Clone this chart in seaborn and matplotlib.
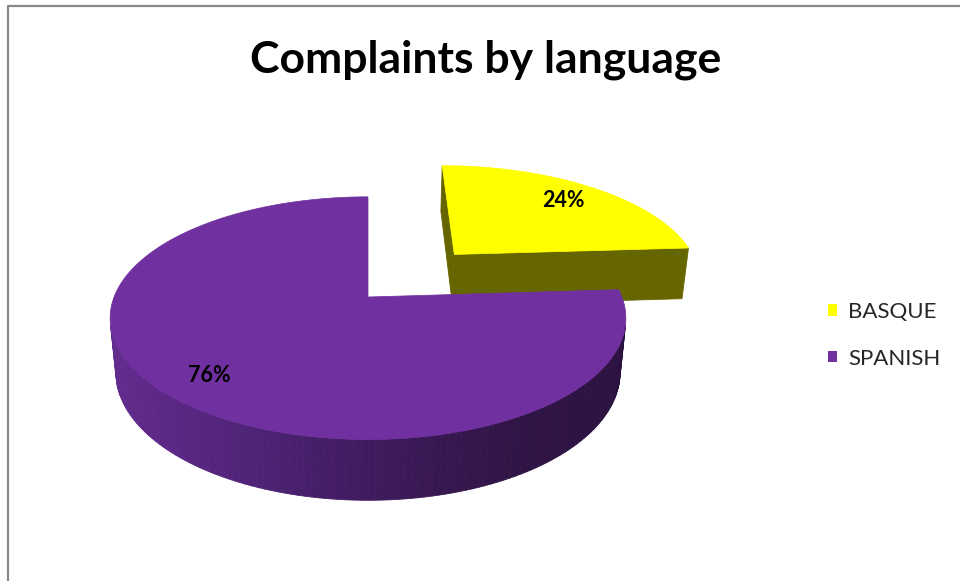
import numpy as np
import matplotlib
matplotlib.use("Agg")
import matplotlib.pyplot as plt
import seaborn as sns
from matplotlib.patches import Patch

# Data
languages = ['BASQUE', 'SPANISH']
shares = [24, 76]
explode = [0.53, 0.0]

top_colors = ['#FFFF00', '#7030A0']
wall_colors = ['#666600', '#3a1858']

sns.set_theme(style="white")
plt.rcParams['font.family'] = ['Lato', 'DejaVu Sans']

# Perspective camera for the 3D pie
elev = np.radians(27.6)
ce, se = np.cos(elev), np.sin(elev)
D = 5.08
f = 1290
cx, cy = 368, 297
h = 0.243
cam = np.array([0.0, -D * ce, D * se])


def project(u, v, z):
    u = np.asarray(u, float)
    v = np.asarray(v, float)
    z = np.asarray(z, float) + 0 * u
    depth = D + v * ce - z * se
    X = cx + f * u / depth
    Y = cy - f * (v * se + z * ce) / depth
    return X, Y


def facing(n, p):
    return np.dot(n, cam - p) > 0


# side shading of the purple slice (light left -> dark right)
grad_x = [110, 250, 370, 500, 615]
grad_rgb = np.array([[0x63, 0x2b, 0x8f], [0x4f, 0x23, 0x77], [0x3f, 0x1b, 0x5d],
                     [0x31, 0x15, 0x48], [0x2b, 0x12, 0x40]]) / 255


def side_color(i, x):
    if i == 0:
        return wall_colors[0]
    return tuple(np.interp(x, grad_x, grad_rgb[:, k]) for k in range(3))


fig = plt.figure(figsize=(9.6, 5.81), dpi=100)
ax = fig.add_axes([0, 0, 1, 1])
ax.set_xlim(0, 960)
ax.set_ylim(581, 0)
ax.axis('off')

# build slices
slices = []
start = 0.0
for i, s in enumerate(shares):
    t0 = start
    t1 = start + s / sum(shares) * 360
    mid = np.radians((t0 + t1) / 2)
    ou, ov = explode[i] * np.sin(mid), explode[i] * np.cos(mid)
    slices.append((i, t0, t1, mid, ou, ov))
    start = t1

# far slices first
slices.sort(key=lambda sl: -(sl[5] + np.cos(sl[3])))

label_pos = {}
for i, t0, t1, mid, ou, ov in slices:
    th = np.radians(np.linspace(t0, t1, 200))
    au, av = ou + np.sin(th), ov + np.cos(th)
    vtx = np.array([ou, ov, 0.0])

    # radial walls
    for t, sign in [(np.radians(t0), -1), (np.radians(t1), 1)]:
        n = np.array([sign * np.cos(t), -sign * np.sin(t), 0.0])
        if facing(n, vtx):
            eu, ev = ou + np.sin(t), ov + np.cos(t)
            X, Y = project([ou, eu, eu, ou], [ov, ev, ev, ov], [0, 0, -h, -h])
            col = wall_colors[0] if i == 0 else side_color(1, X.mean())
            ax.fill(X, Y, color=col, lw=0.6, ec=col, zorder=2)

    # curved outer side
    for k in range(len(th) - 1):
        tm = (th[k] + th[k + 1]) / 2
        n = np.array([np.sin(tm), np.cos(tm), 0.0])
        p = np.array([ou + np.sin(tm), ov + np.cos(tm), 0.0])
        if facing(n, p):
            uu = [au[k], au[k + 1], au[k + 1], au[k]]
            vv = [av[k], av[k + 1], av[k + 1], av[k]]
            X, Y = project(uu, vv, [0, 0, -h, -h])
            col = side_color(i, X.mean())
            ax.fill(X, Y, color=col, lw=0.6, ec=col, zorder=2)

    # top face
    X, Y = project(np.r_[ou, au], np.r_[ov, av], 0.0)
    ax.fill(X, Y, color=top_colors[i], lw=0.5, ec=top_colors[i], zorder=3)

    r = 0.78 if i == 0 else 0.82
    lx, ly = project(ou + r * np.sin(mid), ov + r * np.cos(mid), 0.0)
    label_pos[i] = (float(lx), float(ly))

for i, s in enumerate(shares):
    ax.text(*label_pos[i], f"{s}%", ha='center', va='center', fontsize=15.5,
            fontweight='bold', color='black', zorder=5)

ax.text(486, 73, "Complaints by language", ha='center', va='baseline',
        fontsize=32, fontweight='bold', color='black')

handles = [Patch(facecolor=c, edgecolor='none') for c in top_colors]
ax.legend(handles, languages, loc='upper left', bbox_to_anchor=(828, 302),
          bbox_transform=ax.transData, frameon=False, fontsize=16,
          handlelength=0.42, handleheight=0.42, handletextpad=0.5,
          labelspacing=1.2, borderpad=0, borderaxespad=0)

# chart frame
ax.plot([8, 8, 960], [581, 6, 6], color='#888888', lw=1.6, solid_capstyle='butt',
        zorder=6)

fig.savefig("out.png", dpi=100)
